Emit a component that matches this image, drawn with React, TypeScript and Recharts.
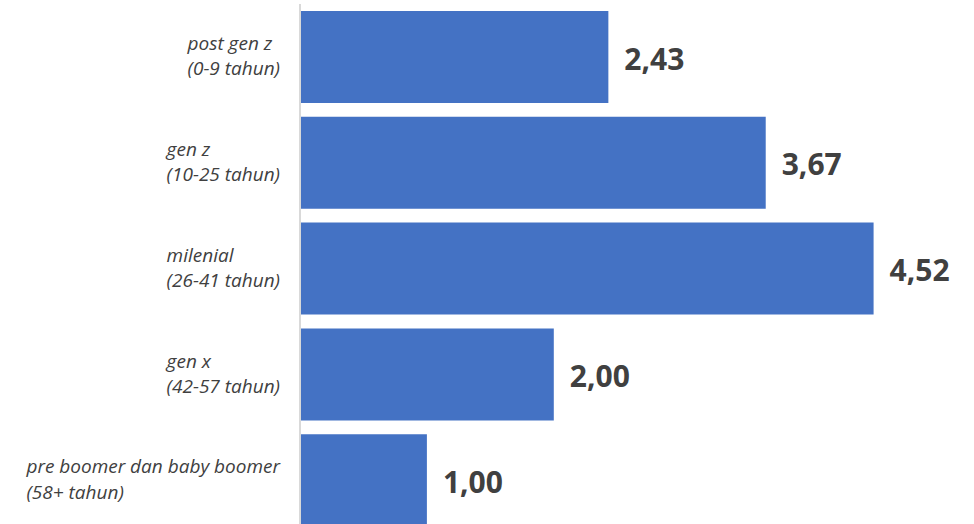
import React from 'react';
import { BarChart, Bar, XAxis, YAxis, LabelList } from 'recharts';

const categoriesLine1 = ['post gen z', 'gen z', 'milenial', 'gen x', 'pre boomer dan baby boomer'];
const categoriesLine2 = ['(0-9 tahun)', '(10-25 tahun)', '(26-41 tahun)', '(42-57 tahun)', '(58+ tahun)'];
const values = [2.43, 3.67, 4.52, 2.0, 1.0];

const data = categoriesLine1.map((c, i) => ({ name: c, sub: categoriesLine2[i], value: values[i] }));

const TICK_SIZE = 19;
const TICK_FONT = `italic ${TICK_SIZE}px 'Open Sans'`;
let ctx: CanvasRenderingContext2D | null = null;
function measure(text: string): number {
  if (!ctx) {
    const c = document.createElement('canvas');
    ctx = c.getContext('2d');
  }
  if (!ctx) return text.length * 9;
  ctx.font = TICK_FONT;
  return ctx.measureText(text).width;
}

const CategoryTick = (props: any) => {
  const { y, payload, index } = props;
  const l1 = categoriesLine1[index] ?? payload.value;
  const l2 = categoriesLine2[index] ?? '';
  const w = Math.max(measure(l1), measure(l2));
  const right = 280;
  const left = right - w;
  return (
    <g>
      <text x={left} y={y - 6.7} fill="#404040" fontFamily="'Open Sans'" fontStyle="italic" fontSize={TICK_SIZE} textAnchor="start">
        {l1}
      </text>
      <text x={left} y={y + 18.5} fill="#404040" fontFamily="'Open Sans'" fontStyle="italic" fontSize={TICK_SIZE} textAnchor="start">
        {l2}
      </text>
    </g>
  );
};

const ValueLabel = (props: any) => {
  const { x, y, width, height, value } = props;
  return (
    <text
      x={x + width + 16}
      y={y + height / 2 + 12.5}
      fill="#404040"
      fontFamily="'Open Sans'"
      fontWeight={700}
      fontSize={30}
      textAnchor="start"
    >
      {Number(value).toFixed(2).replace('.', ',')}
    </text>
  );
};

export default function App() {
  return (
    <div style={{ position: 'absolute', left: 0, top: 0, width: 974, height: 524, overflow: 'hidden', background: '#fff' }}>
      <BarChart
        width={974}
        height={533}
        data={data}
        layout="vertical"
        margin={{ top: 4, right: 39.5, bottom: 0, left: 0 }}
      >
        <XAxis type="number" domain={[0, 5]} hide />
        <YAxis
          type="category"
          dataKey="name"
          width={300}
          axisLine={{ stroke: '#d9d9d9', strokeWidth: 2 }}
          tickLine={false}
          tick={<CategoryTick />}
          interval={0}
        />
        <Bar dataKey="value" fill="#4472C4" barSize={92} isAnimationActive={false}>
          <LabelList dataKey="value" content={<ValueLabel />} />
        </Bar>
      </BarChart>
    </div>
  );
}
